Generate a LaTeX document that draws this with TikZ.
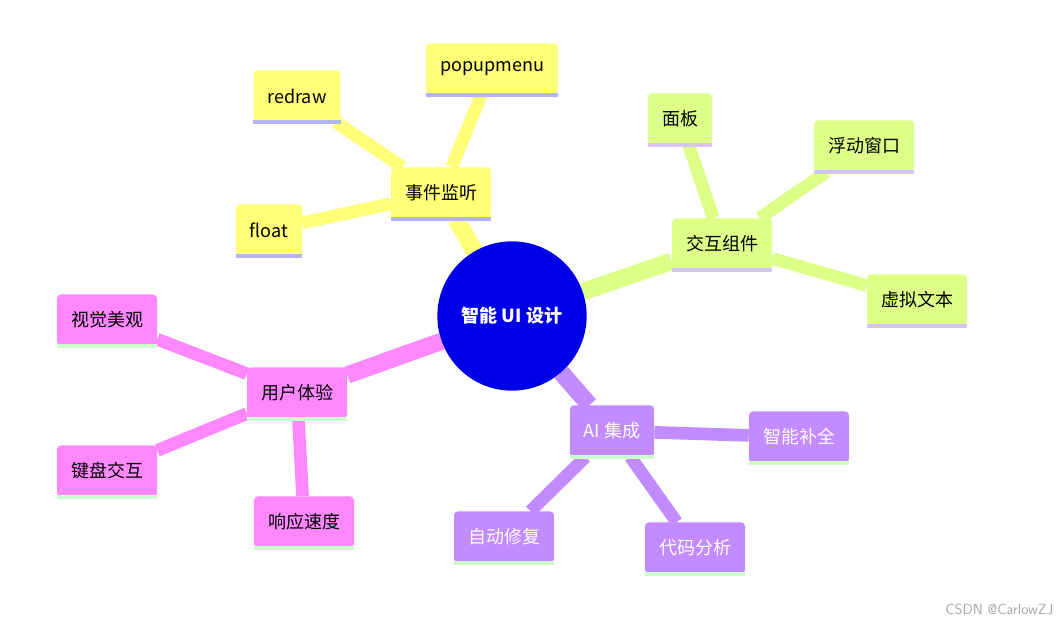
\documentclass[tikz,border=0pt]{standalone}
\usepackage{fontspec}
\setmainfont{Noto Sans CJK SC}
\usetikzlibrary{backgrounds}
\definecolor{cy}{HTML}{FFFF78}
\definecolor{cg}{HTML}{DDFF88}
\definecolor{cp}{HTML}{FF88FF}
\definecolor{cv}{HTML}{C28BFF}
\definecolor{lav}{HTML}{B4B4F0}
\definecolor{lav2}{HTML}{D4C4F8}
\definecolor{lgr}{HTML}{CCFFCC}
\definecolor{rootc}{HTML}{0000E8}
\tikzset{
  box/.style={fill=#1, rounded corners=3pt, minimum height=38.5pt, inner xsep=10.5pt, font=\fontsize{13.5}{16}\selectfont, text=black},
  bl/.style={line width=2.5pt, draw=#1},
  e1/.style={line width=13pt, draw=#1},
  e2/.style={line width=9.5pt, draw=#1},
}
\newcommand{\mmnode}[5]{% name, x, y, fill, bottomcolor ... text via #5? 
}
\begin{document}
\begin{tikzpicture}[x=0.75pt,y=-0.75pt]
\useasboundingbox (0,0) rectangle (1062,627);
\node[circle, fill=rootc, minimum size=112pt, text=white, font=\fontsize{13.5}{16}\selectfont\bfseries] (root) at (512,316) {智能 UI 设计};
% yellow
\node[box=cy] (sj) at (441,193) {事件监听};
\node[box=cy] (rd) at (297,96) {redraw};
\node[box=cy] (pm) at (492,69) {popupmenu};
\node[box=cy] (fl) at (269,230) {float};
% green
\node[box=cg] (jh) at (722,244) {交互组件};
\node[box=cg] (mb) at (680,119) {面板};
\node[box=cg] (fd) at (864,146) {浮动窗口};
\node[box=cg] (xn) at (917,300) {虚拟文本};
% pink
\node[box=cp] (yh) at (297,393) {用户体验};
\node[box=cp] (sg) at (107,320) {视觉美观};
\node[box=cp] (jp) at (107,471) {键盘交互};
\node[box=cp] (xy) at (304,522) {响应速度};
% purple
\node[box=cv, text=white] (ai) at (612,431) {AI 集成};
\node[box=cv, text=white] (zb) at (799,437) {智能补全};
\node[box=cv, text=white] (zd) at (504,537) {自动修复};
\node[box=cv, text=white] (dm) at (695,548) {代码分析};
\foreach \n in {sj,rd,pm,fl} \draw[bl=lav] (\n.south west) -- (\n.south east);
\foreach \n in {jh,mb,fd,xn} \draw[bl=lav2] (\n.south west) -- (\n.south east);
\foreach \n in {yh,sg,jp,xy} \draw[bl=lgr] (\n.south west) -- (\n.south east);
\foreach \n in {ai,zb,zd,dm} \draw[bl=lgr] (\n.south west) -- (\n.south east);
\node[text=gray!70, font=\fontsize{11}{13}\selectfont\sffamily, anchor=east] (wm) at (1058,609) {CSDN @CarlowZJ};
\begin{scope}[on background layer]
\draw[e1=cy] (root) -- (sj);
\draw[e2=cy] (sj) -- (rd); \draw[e2=cy] (sj) -- (pm); \draw[e2=cy] (sj) -- (fl);
\draw[e1=cg] (root) -- (jh);
\draw[e2=cg] (jh) -- (mb); \draw[e2=cg] (jh) -- (fd); \draw[e2=cg] (jh) -- (xn);
\draw[e1=cp] (root) -- (yh);
\draw[e2=cp] (yh) -- (sg); \draw[e2=cp] (yh) -- (jp); \draw[e2=cp] (yh) -- (xy);
\draw[e1=cv] (root) -- (ai);
\draw[e2=cv] (ai) -- (zb); \draw[e2=cv] (ai) -- (zd); \draw[e2=cv] (ai) -- (dm);
\end{scope}
\end{tikzpicture}
\end{document}
